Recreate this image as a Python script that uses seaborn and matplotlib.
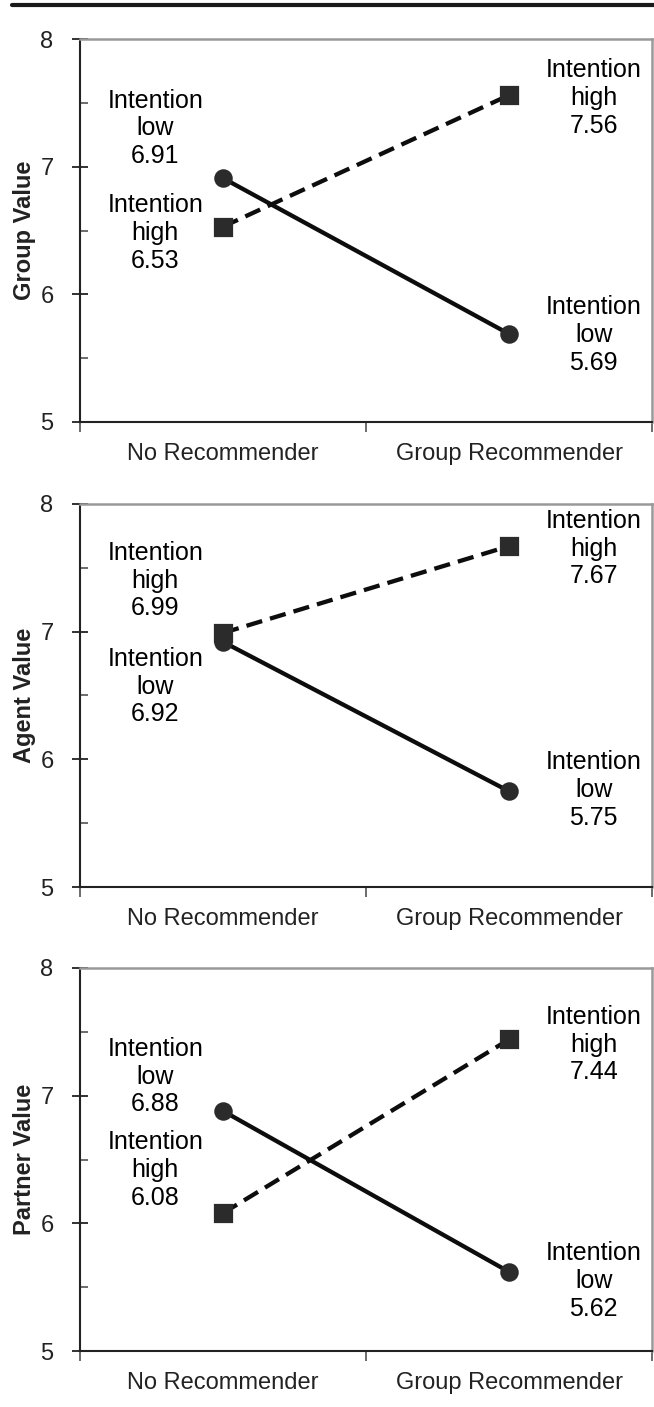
import numpy as np
import pandas as pd
import matplotlib.pyplot as plt
from matplotlib.lines import Line2D
from matplotlib.ticker import MultipleLocator, FixedLocator
import seaborn as sns

# Data
conditions = ["No Recommender", "Group Recommender"]
panels = ["Group Value", "Agent Value", "Partner Value"]
low_values = [[6.91, 5.69], [6.92, 5.75], [6.88, 5.62]]
high_values = [[6.53, 7.56], [6.99, 7.67], [6.08, 7.44]]

# where the text blocks sit (y of middle line, data units)
label_y_low = [[7.30, 5.68], [6.57, 5.76], [7.15, 5.55]]
label_y_high = [[6.48, 7.54], [7.40, 7.65], [6.42, 7.40]]
label_x = [-0.237, 1.296]

sns.set_theme(style="white")
plt.rcParams["font.family"] = ["Liberation Sans", "DejaVu Sans"]
plt.rcParams["lines.dashed_pattern"] = [3.8, 1.9]

fig = plt.figure(figsize=(6.54, 14.07), dpi=100)
tops = [39, 504, 968]
height = 383

for i, name in enumerate(panels):
    top = tops[i]
    ax = fig.add_axes([80 / 654, 1 - (top + height) / 1407, 572 / 654, height / 1407])

    df = pd.DataFrame({
        "Condition": conditions * 2,
        "Intention": ["low"] * 2 + ["high"] * 2,
        "Value": low_values[i] + high_values[i],
    })
    sns.pointplot(data=df, x="Condition", y="Value", hue="Intention",
                  hue_order=["low", "high"], order=conditions,
                  markers=["o", "s"], linestyles=["-", "--"],
                  palette=["#0d0d0d", "#0d0d0d"], errorbar=None,
                  markersize=11, linewidth=3.1, ax=ax, legend=False)
    for ln in ax.lines:
        ln.set_markerfacecolor("#2b2b2b")
        ln.set_markeredgecolor("#2b2b2b")

    ax.set_xlim(-0.5, 1.5)
    ax.set_ylim(5, 8)
    ax.set_xlabel("")
    ax.set_ylabel(name, fontsize=17, fontweight="bold", color="#222222", labelpad=3)

    ax.yaxis.set_major_locator(MultipleLocator(1))
    ax.yaxis.set_minor_locator(MultipleLocator(0.5))
    ax.tick_params(axis="y", which="major", direction="inout", length=12, width=1.3,
                   labelsize=17, colors="#222222", pad=13, left=True)
    ax.tick_params(axis="y", which="minor", direction="in", length=6, width=1.1,
                   color="#444444", left=True)
    ax.xaxis.set_minor_locator(FixedLocator([-0.5, 0.5, 1.5]))
    ax.tick_params(axis="x", which="major", length=0, labelsize=17, colors="#222222", pad=15)
    ax.tick_params(axis="x", which="minor", direction="out", length=7, width=1.1,
                   color="#444444", bottom=True)

    for side in ["left", "bottom"]:
        ax.spines[side].set_color("#222222")
        ax.spines[side].set_linewidth(1.5)
    for side in ["top", "right"]:
        ax.spines[side].set_color("#999999")
        ax.spines[side].set_linewidth(1.8)

    for j in range(2):
        ax.text(label_x[j], label_y_low[i][j], f"Intention\nlow\n{low_values[i][j]:.2f}",
                ha="center", va="center", fontsize=18, color="black", linespacing=1.2)
        ax.text(label_x[j], label_y_high[i][j], f"Intention\nhigh\n{high_values[i][j]:.2f}",
                ha="center", va="center", fontsize=18, color="black", linespacing=1.2)

fig.add_artist(Line2D([12 / 654, 1], [1 - 5 / 1407] * 2, lw=3, color="#1a1a1a"))

fig.savefig("out.png", dpi=100)
